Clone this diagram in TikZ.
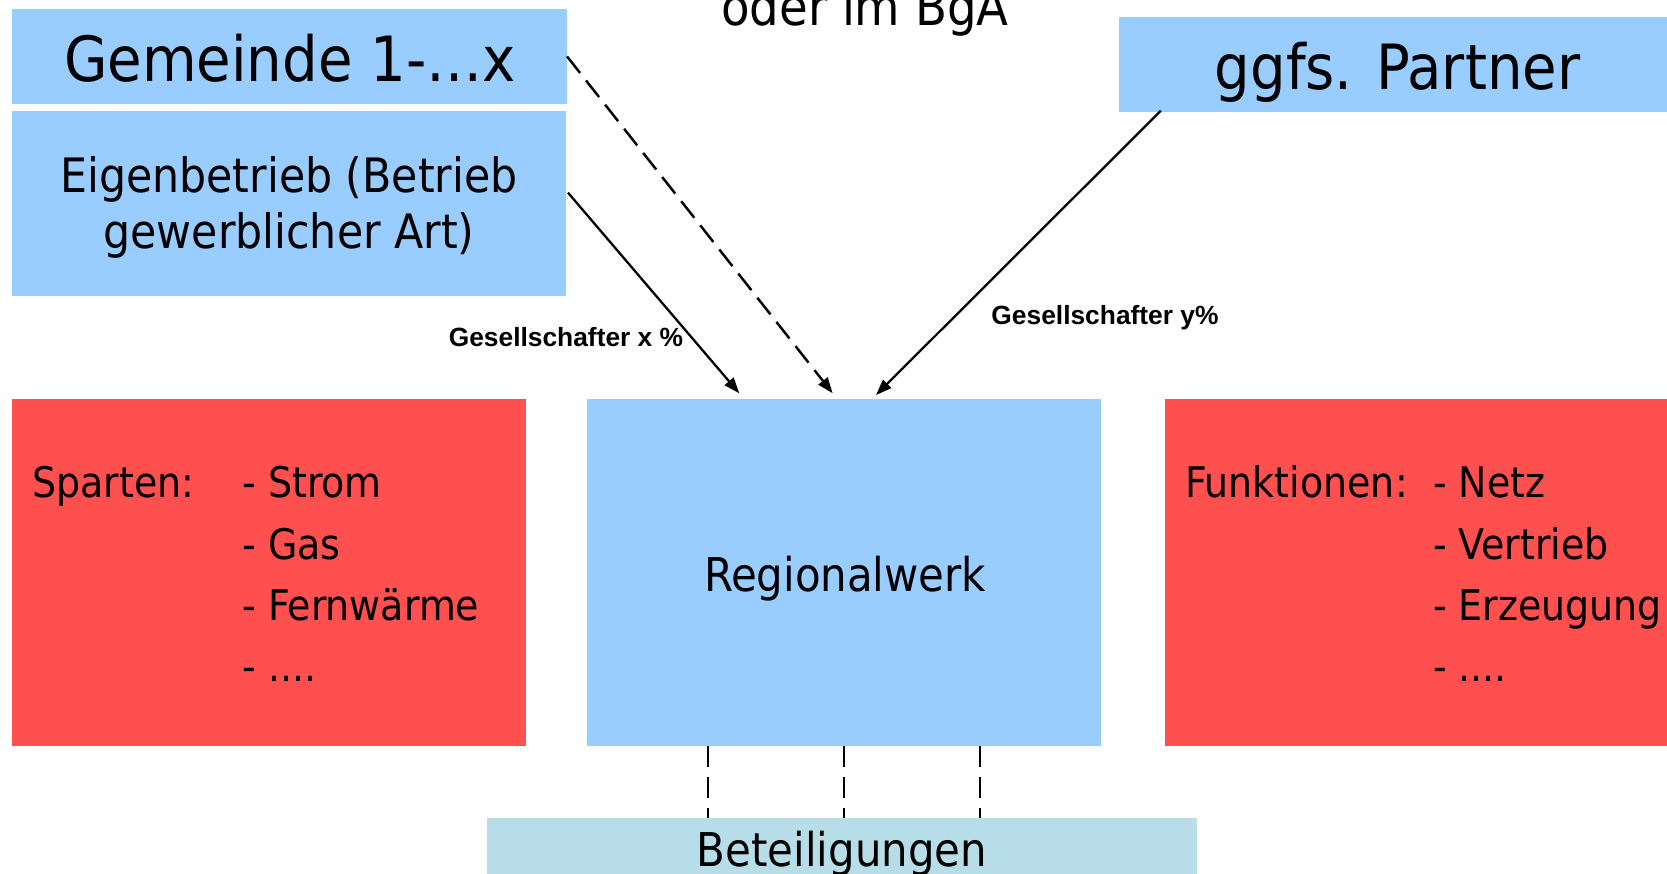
\documentclass[tikz,border=0pt]{standalone}
\usepackage{fontspec}
\setmainfont{DejaVu Sans Condensed}
\newfontfamily\labelfont{Liberation Sans}
\usetikzlibrary{calc}
\usetikzlibrary{arrows.meta}
\definecolor{lightblue}{RGB}{153,204,255}
\definecolor{lightred}{RGB}{255,80,80}
\definecolor{paleteal}{RGB}{183,222,232}
\newcommand{\bigfont}{\fontsize{35.5}{40}\selectfont}
\newcommand{\midfont}{\fontsize{29.5}{34}\selectfont}
\newcommand{\eigenfont}{\fontsize{27}{32}\selectfont}
\newcommand{\regiofont}{\fontsize{26.5}{31}\selectfont}
\newcommand{\listfont}{\fontsize{24}{29}\selectfont}
\newcommand{\edgefont}{\labelfont\bfseries\fontsize{15}{18}\selectfont}
\tikzset{
  block/.style={rectangle, inner sep=0pt, outer sep=0pt, anchor=north west},
  plaintext/.style={inner sep=0pt, anchor=base},
  listtext/.style={inner sep=0pt, anchor=base west, font=\listfont},
  edgelabel/.style={inner sep=0pt, anchor=base, font=\edgefont},
  arr/.style={line width=1.3pt, -{Triangle[length=9pt, width=6.5pt]}},
  dashline/.style={line width=1.4pt, dash pattern=on 12pt off 5.5pt}
}
\newcommand{\fillblock}[6]{\node[block, fill=#2, minimum width={(#5-#3)*0.02cm}, minimum height={(#6-#4)*0.02cm}] (#1) at (#3,#4) {};}
\newcommand{\listrow}[4]{\node[listtext] (#1) at (#2,#3) {#4};}

\begin{document}
\begin{tikzpicture}[x=0.02cm, y=-0.02cm]
        \useasboundingbox (0,0) rectangle (1667,873);

        % owners
        \fillblock{gemeinde}{lightblue}{11.8}{9}{567}{103.7}
        \fillblock{eigen}{lightblue}{11.8}{111}{566}{296.3}
        \fillblock{partner}{lightblue}{1118.8}{16.7}{1667}{111.7}

        % middle row
        \fillblock{sparten}{lightred}{12}{399}{526}{746}
        \fillblock{regio}{lightblue}{587}{399}{1101}{746}
        \fillblock{funktionen}{lightred}{1165}{399}{1667}{746}

        % bottom
        \fillblock{beteil}{paleteal}{487}{818}{1197}{900}

        \node[plaintext, font=\midfont] (bga) at (865,25.7) {oder im BgA};
        \node[plaintext, font=\bigfont] (gemeindetext) at (290,81) {Gemeinde 1-…x};
        \node[plaintext, font=\eigenfont] (eigentext1) at (289,192.3) {Eigenbetrieb (Betrieb};
        \node[plaintext, font=\eigenfont] (eigentext2) at (289,248.3) {gewerblicher Art)};
        \node[plaintext, font=\bigfont] (partnertext) at (1397.5,89.3) {ggfs. Partner};
        \node[plaintext, font=\regiofont] (regiotext) at (845,591.7) {Regionalwerk};
        \node[plaintext, font=\regiofont] (beteiltext) at (842,866) {Beteiligungen};

        % lists
        \listrow{spartenhead}{32}{497.7}{Sparten:}
        \listrow{strom}{242}{497.7}{- Strom}
        \listrow{gas}{242}{559}{- Gas}
        \listrow{fernwaerme}{242}{620}{- Fernwärme}
        \listrow{spartenmore}{242}{681.7}{- ....}

        \listrow{funktionenhead}{1185}{497.7}{Funktionen:}
        \listrow{netz}{1432.7}{497.7}{- Netz}
        \listrow{vertrieb}{1432.7}{559}{- Vertrieb}
        \listrow{erzeugung}{1432.7}{620}{- Erzeugung}
        \listrow{funktionenmore}{1432.7}{681.7}{- ....}

        % shares
        \draw[arr, dashline] (gemeinde.east) -- ($(regio.north)+(-11.3,-5.7)$);
        \draw[arr] ($(eigen.east)+(2,-11)$) -- ($(regio.north)+(-104.7,-5.7)$);
        \draw[arr] ($(partner.south west)+(42,-1)$) -- ($(regio.north)+(32,-4)$);

        \node[edgelabel] (sharex) at (566,346.7) {Gesellschafter x \%};
        \node[edgelabel] (sharey) at (1105,324) {Gesellschafter y\%};

        \foreach \dx in {-136,0,136}
          \draw[dashline] ($(regio.south)+(\dx,0)$) -- ($(beteil.north)+(\dx+2,0)$);

    \end{tikzpicture}
\end{document}
